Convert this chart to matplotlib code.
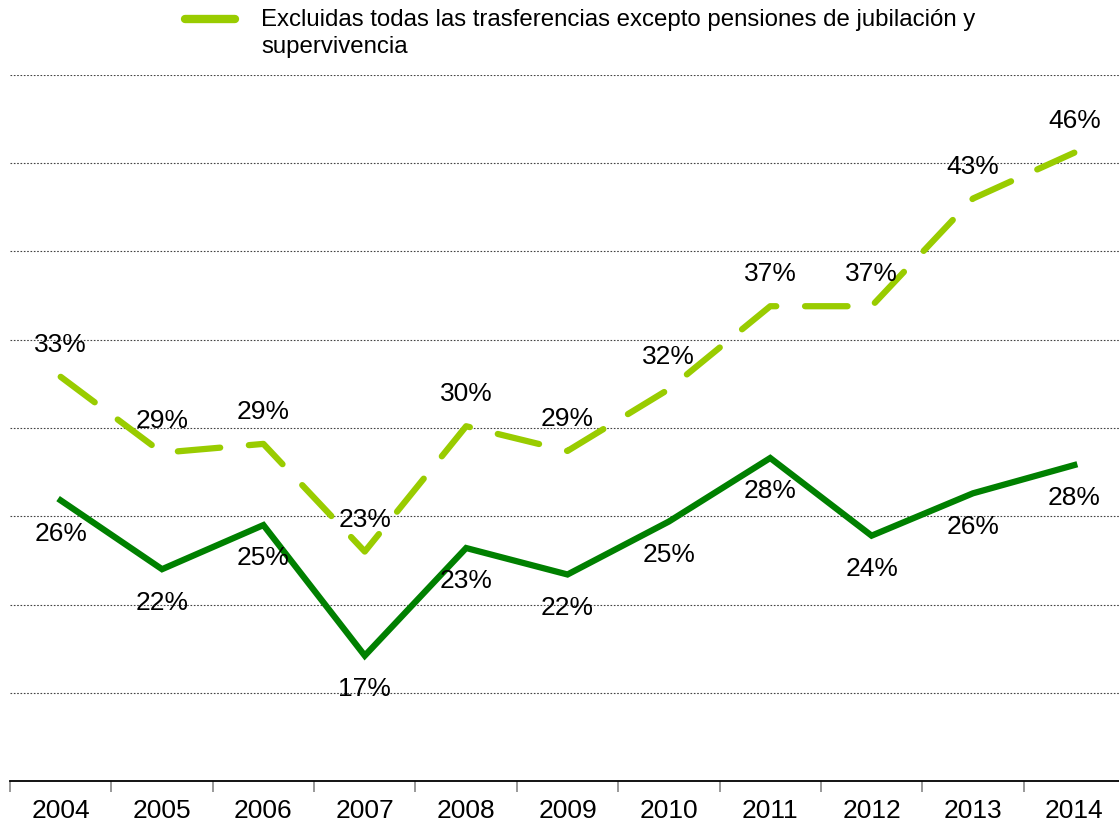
import matplotlib
matplotlib.use("Agg")
import matplotlib.pyplot as plt
from matplotlib.lines import Line2D

plt.rcParams["font.family"] = ["Liberation Sans", "DejaVu Sans"]

years = ["2004", "2005", "2006", "2007", "2008", "2009", "2010", "2011", "2012", "2013", "2014"]
# solid series (no legend entry visible in the picture)
solid_vals = [25.9, 22.0, 24.5, 17.1, 23.2, 21.7, 24.7, 28.3, 23.9, 26.3, 27.9]
solid_labels = ["26%", "22%", "25%", "17%", "23%", "22%", "25%", "28%", "24%", "26%", "28%"]
# dashed series
dashed_name = "Excluidas todas las trasferencias excepto pensiones de jubilación y\nsupervivencia"
dashed_vals = [32.9, 28.6, 29.1, 23.0, 30.1, 28.7, 32.2, 36.9, 36.9, 43.0, 45.6]
dashed_labels = ["33%", "29%", "29%", "23%", "30%", "29%", "32%", "37%", "37%", "43%", "46%"]

dark_green = "#008000"
light_green = "#99CC00"

fig = plt.figure(figsize=(11.19, 8.27), dpi=100)
ax = fig.add_axes([10 / 1119, 1 - 781 / 827, 1115 / 1119, (781 - 75) / 827])

x = list(range(len(years)))

ax.plot(x, solid_vals, color=dark_green, linewidth=4.5, solid_joinstyle="miter", zorder=3)
ax.plot(x, dashed_vals, color=light_green, linewidth=4.5, dashes=(6.8, 4.6),
        dash_capstyle="round", zorder=3)

for xi, v, lab in zip(x, solid_vals, solid_labels):
    ax.annotate(lab, (xi, v), xytext=(0, -24), textcoords="offset points",
                ha="center", va="center", fontsize=19, color="black", zorder=4)
for xi, v, lab in zip(x, dashed_vals, dashed_labels):
    ax.annotate(lab, (xi, v), xytext=(0, 23), textcoords="offset points",
                ha="center", va="center", fontsize=19, color="black", zorder=4)

ax.set_xlim(-0.5, len(years) - 0.5)
ax.set_ylim(10, 50)
ax.set_yticks(range(15, 51, 5))
ax.tick_params(axis="y", left=False, labelleft=False)
ax.yaxis.grid(True, linestyle=(0, (1.5, 1.5)), color="#444444", linewidth=0.8)
ax.set_axisbelow(True)

ax.set_xticks(x)
ax.set_xticklabels(years, fontsize=19)
ax.set_xticks([i - 0.5 for i in range(len(years) + 1)], minor=True)
ax.tick_params(axis="x", which="major", length=0, pad=13)
ax.tick_params(axis="x", which="minor", length=8, width=1.2, color="#888888", direction="out")

for side in ["top", "right", "left"]:
    ax.spines[side].set_visible(False)
ax.spines["bottom"].set_color("black")
ax.spines["bottom"].set_linewidth(1.3)

# legend: handle aligned with the first text line
W, H = 1119, 827
fig.add_artist(Line2D([185 / W, 235 / W], [1 - 19 / H, 1 - 19 / H], transform=fig.transFigure,
                      color=light_green, linewidth=6, solid_capstyle="round"))
fig.text(261 / W, 1 - 9 / H, dashed_name, ha="left", va="top", fontsize=17.3, linespacing=1.3)

fig.savefig("out.png", dpi=100)
